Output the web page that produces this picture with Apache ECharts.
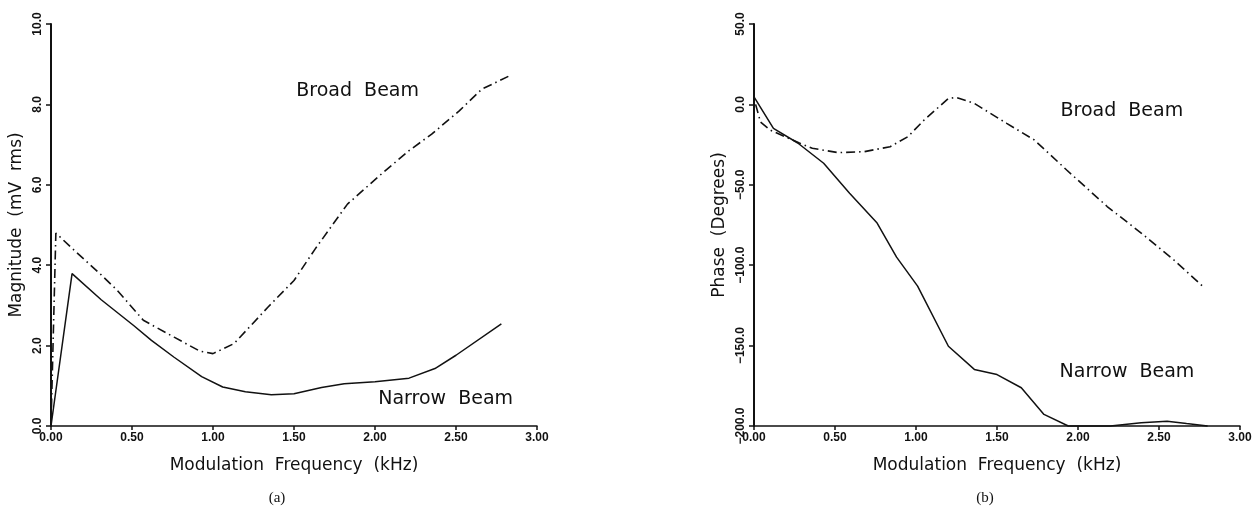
<!DOCTYPE html>
<html>
<head>
<meta charset="utf-8">
<script src="https://cdn.jsdelivr.net/npm/echarts@6/dist/echarts.min.js"></script>
<style>
html,body{margin:0;padding:0;background:#fff;}
#chart{width:1260px;height:512px;}
</style>
</head>
<body>
<div id="chart"></div>
<script>
// ---- data (frequency kHz, value) ----
var magBroad = [[0,0],[0.03,4.8],[0.13,4.42],[0.31,3.76],[0.41,3.37],[0.57,2.63],[0.76,2.21],[0.92,1.86],[1.0,1.8],[1.13,2.05],[1.34,2.96],[1.5,3.62],[1.63,4.4],[1.83,5.52],[2.04,6.27],[2.21,6.85],[2.35,7.26],[2.52,7.84],[2.66,8.38],[2.83,8.71]];
var magNarrow = [[0,0],[0.13,3.79],[0.31,3.14],[0.51,2.5],[0.62,2.13],[0.76,1.71],[0.93,1.23],[1.06,0.97],[1.2,0.85],[1.36,0.78],[1.5,0.8],[1.67,0.96],[1.81,1.05],[2.0,1.1],[2.21,1.19],[2.37,1.43],[2.5,1.76],[2.78,2.54]];
var phaseBroad = [[0.01,0],[0.04,-11],[0.1,-16],[0.2,-20.5],[0.28,-24],[0.36,-27.3],[0.52,-30],[0.68,-29.4],[0.84,-26.3],[0.95,-20.1],[1.05,-9.7],[1.2,3.7],[1.25,4.3],[1.36,0.6],[1.56,-11.8],[1.73,-22.1],[1.93,-40.8],[2.18,-63.5],[2.39,-80],[2.59,-96.6],[2.78,-114]];
var phaseNarrow = [[0,4.7],[0.12,-14.9],[0.27,-24],[0.43,-36.6],[0.59,-55.2],[0.76,-73.8],[0.88,-95],[1.01,-113],[1.2,-150.4],[1.36,-164.8],[1.5,-168],[1.65,-176.2],[1.79,-192.8],[1.94,-200],[2.2,-200],[2.39,-198],[2.55,-197],[2.67,-198.5],[2.8,-200]];
// annotation anchors (data coords of label left/middle)
var magLabels = [[1.514,8.34,'Broad  Beam'],[2.02,0.66,'Narrow  Beam']];
var phaseLabels = [[1.892,-4.2,'Broad  Beam'],[1.886,-166.7,'Narrow  Beam']];
var xTicks = {min:0,max:3,interval:0.5};
var magTicks = {min:0,max:10,interval:2};
var phaseTicks = {min:-200,max:50,interval:50};
var xTitle = 'Modulation  Frequency  (kHz)';
var magTitle = 'Magnitude  (mV  rms)';
var phaseTitle = 'Phase  (Degrees)';
var captions = ['(a)','(b)'];

var INK = '#111';
var FONT = 'DejaVu Sans';
var dashDot = [9,4,1.5,4];

function xAxis(gi){
  return {
    type:'value', gridIndex:gi, min:xTicks.min, max:xTicks.max, interval:xTicks.interval,
    name:xTitle, nameLocation:'middle', nameGap:31,
    nameTextStyle:{color:INK,fontFamily:FONT,fontSize:17},
    axisLine:{show:true,onZero:false,lineStyle:{color:INK,width:1.5}},
    axisTick:{show:true,length:4,lineStyle:{color:INK,width:1.5}},
    axisLabel:{color:INK,fontFamily:'Liberation Sans',fontWeight:'bold',fontSize:12,margin:6,
      formatter:function(v){return v.toFixed(2);}},
    splitLine:{show:false}
  };
}
function yAxis(gi,t,name){
  return {
    type:'value', gridIndex:gi, min:t.min, max:t.max, interval:t.interval,
    name:name, nameLocation:'middle', nameGap:26, nameRotate:90,
    nameTextStyle:{color:INK,fontFamily:FONT,fontSize:17},
    axisLine:{show:true,onZero:false,lineStyle:{color:INK,width:2}},
    axisTick:{show:true,length:5,lineStyle:{color:INK,width:1.5}},
    axisLabel:{color:INK,fontFamily:'Liberation Sans',fontWeight:'bold',fontSize:12,margin:7,rotate:90,
      formatter:function(v){return v.toFixed(1).replace('-','\u2212');}},
    splitLine:{show:false}
  };
}
function lineSeries(gi,data,dashed){
  return {type:'line',xAxisIndex:gi,yAxisIndex:gi,data:data,showSymbol:false,symbol:'none',
    smooth:false,clip:false,animation:false,
    lineStyle:{color:INK,width:dashed?1.6:1.5,type:dashed?dashDot:'solid'}};
}
function labelSeries(gi,labels){
  return {type:'scatter',xAxisIndex:gi,yAxisIndex:gi,symbolSize:0,animation:false,silent:true,
    itemStyle:{opacity:1,color:INK},
    data:labels.map(function(l){return {value:[l[0],l[1]],name:l[2]};}),
    label:{show:true,position:'right',distance:0,formatter:'{b}',color:INK,opacity:1,fontFamily:FONT,fontSize:19}};
}

var chart = echarts.init(document.getElementById('chart'),null,{renderer:'canvas'});
chart.setOption({
  backgroundColor:'#fff',
  animation:false,
  grid:[
    {left:51,top:24,width:486,height:402},
    {left:754,top:24,width:486,height:402}
  ],
  xAxis:[xAxis(0),xAxis(1)],
  yAxis:[yAxis(0,magTicks,magTitle),yAxis(1,phaseTicks,phaseTitle)],
  series:[
    lineSeries(0,magBroad,true),
    lineSeries(0,magNarrow,false),
    lineSeries(1,phaseBroad,true),
    lineSeries(1,phaseNarrow,false),
    labelSeries(0,magLabels),
    labelSeries(1,phaseLabels)
  ],
  graphic:[
    {type:'text',x:277,y:498,style:{text:captions[0],font:'15px "Liberation Serif"',fill:INK,textAlign:'center',textVerticalAlign:'middle'}},
    {type:'text',x:985,y:498,style:{text:captions[1],font:'15px "Liberation Serif"',fill:INK,textAlign:'center',textVerticalAlign:'middle'}}
  ]
});
</script>
</body>
</html>
